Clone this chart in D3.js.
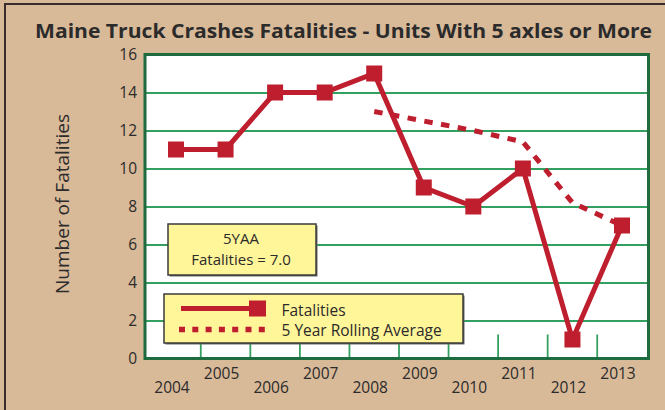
<!DOCTYPE html>
<html><head><meta charset="utf-8">
<script src="https://cdn.jsdelivr.net/npm/d3@7"></script>
<style>
html,body{margin:0;padding:0;background:#d8b998;}
svg{display:block;}
text{font-family:"Open Sans","Noto Sans",sans-serif;fill:#2b2b2b;}
</style></head>
<body>
<script>
const years = [2004,2005,2006,2007,2008,2009,2010,2011,2012,2013];
const fatalities = [11,11,14,14,15,9,8,10,1,7];
const avgYears = [2008,2009,2010,2011,2012,2013];
const rollingAvg = [13.0,12.5,12.0,11.4,8.2,7.0];
const yTicks = [0,2,4,6,8,10,12,14,16];
const title = "Maine Truck Crashes Fatalities - Units With 5 axles or More";
const yTitle = "Number of Fatalities";
const legendLabels = ["Fatalities","5 Year Rolling Average"];
const noteLines = ["5YAA","Fatalities = 7.0"];

const W=665,H=410;
const red="#be1e2d", grid="#34a060", frame="#1d6b3f";
const plot={left:145,right:648.5,top:54.5,bottom:358.5};

const svg=d3.select("body").append("svg").attr("width",W).attr("height",H);

// outer background frame
svg.append("rect").attr("x",5).attr("y",4).attr("width",720).attr("height",500)
  .attr("fill","#d8b998").attr("stroke","#3a2c2c").attr("stroke-width",2);

const x=d3.scaleLinear().domain([2004,2013]).range([176,622]);
const y=d3.scaleLinear().domain([0,16]).range([plot.bottom,plot.top]);

// title
svg.append("text").attr("x",35).attr("y",38).attr("font-size",19).attr("font-weight",700)
  .attr("textLength",617).attr("lengthAdjust","spacingAndGlyphs").attr("fill","#231f20").text(title);

// plot area
svg.append("rect").attr("x",plot.left).attr("y",plot.top)
  .attr("width",plot.right-plot.left).attr("height",plot.bottom-plot.top).attr("fill","#fff");

// gridlines
const gridAxis=d3.axisLeft(y).tickValues(yTicks.filter(d=>d>0&&d<16))
  .tickSize(-(plot.right-plot.left)).tickFormat("");
const gg=svg.append("g").attr("transform",`translate(${plot.left},0)`).call(gridAxis);
gg.select(".domain").remove();
gg.selectAll("line").attr("stroke",grid).attr("stroke-width",1.8);

// x tick marks (between years)
svg.append("g").selectAll("line").data(years.slice(0,-1)).join("line")
  .attr("x1",d=>x(d+0.5)).attr("x2",d=>x(d+0.5))
  .attr("y1",plot.bottom-24).attr("y2",plot.bottom)
  .attr("stroke",grid).attr("stroke-width",1.8);

// plot border
svg.append("rect").attr("x",plot.left).attr("y",plot.top)
  .attr("width",plot.right-plot.left).attr("height",plot.bottom-plot.top)
  .attr("fill","none").attr("stroke",frame).attr("stroke-width",3);

// y labels
const ya=d3.axisLeft(y).tickValues(yTicks).tickSize(0).tickPadding(8).tickFormat(d3.format("d"));
const yg=svg.append("g").attr("transform",`translate(${plot.left},0)`).call(ya);
yg.select(".domain").remove();
yg.selectAll("text").attr("font-size",15.5).attr("fill","#2b2b2b")
  .style("font-family",'"Open Sans","Noto Sans",sans-serif');

// x labels (staggered)
svg.append("g").selectAll("text").data(years).join("text")
  .attr("x",d=>x(d)-4).attr("y",(d,i)=>i%2===0?393:379)
  .attr("text-anchor","middle").attr("font-size",15.5).text(d=>d);

// y title
svg.append("text").attr("transform","translate(68.5,204) rotate(-90)")
  .attr("text-anchor","middle").attr("font-size",19).attr("fill","#333").text(yTitle);

// rolling average dotted line
const avgData=avgYears.map((d,i)=>({year:d,v:rollingAvg[i]}));
svg.append("path").datum(avgData)
  .attr("d",d3.line().x(d=>x(d.year)).y(d=>y(d.v)))
  .attr("fill","none").attr("stroke",red).attr("stroke-width",5)
  .attr("stroke-dasharray","8.5,8.5");

// fatalities line
const fData=years.map((d,i)=>({year:d,v:fatalities[i]}));
svg.append("path").datum(fData)
  .attr("d",d3.line().x(d=>x(d.year)).y(d=>y(d.v)))
  .attr("fill","none").attr("stroke",red).attr("stroke-width",5);
svg.append("g").selectAll("rect").data(fData).join("rect")
  .attr("x",d=>x(d.year)-8).attr("y",d=>y(d.v)-8).attr("width",16).attr("height",16)
  .attr("fill",red);

// annotation box
const note=svg.append("g");
note.append("rect").attr("x",169.5).attr("y",225.5).attr("width",148).attr("height",51).attr("fill","#6b6b6b");
note.append("rect").attr("x",168).attr("y",224).attr("width",148).attr("height",51)
  .attr("fill","#fff599").attr("stroke","#3a3a3a").attr("stroke-width",1.5);
note.selectAll("text").data(noteLines).join("text")
  .attr("x",241).attr("y",(d,i)=>244+i*21).attr("text-anchor","middle")
  .attr("font-size",15).text(d=>d);

// legend
const lg=svg.append("g");
lg.append("rect").attr("x",165.5).attr("y",295.5).attr("width",299).attr("height",49).attr("fill","#6b6b6b");
lg.append("rect").attr("x",164).attr("y",294).attr("width",299).attr("height",49)
  .attr("fill","#fff599").attr("stroke","#3a3a3a").attr("stroke-width",1.5);
lg.append("line").attr("x1",181).attr("x2",262).attr("y1",308.5).attr("y2",308.5)
  .attr("stroke",red).attr("stroke-width",5);
lg.append("rect").attr("x",249).attr("y",300.5).attr("width",17).attr("height",16).attr("fill",red);
lg.append("line").attr("x1",179).attr("x2",266).attr("y1",329.5).attr("y2",329.5)
  .attr("stroke",red).attr("stroke-width",5.5).attr("stroke-dasharray","6,7.3");
lg.selectAll("text").data(legendLabels).join("text")
  .attr("x",281.5).attr("y",(d,i)=>315.5+i*20).attr("font-size",15.5).text(d=>d);
</script>
</body></html>
